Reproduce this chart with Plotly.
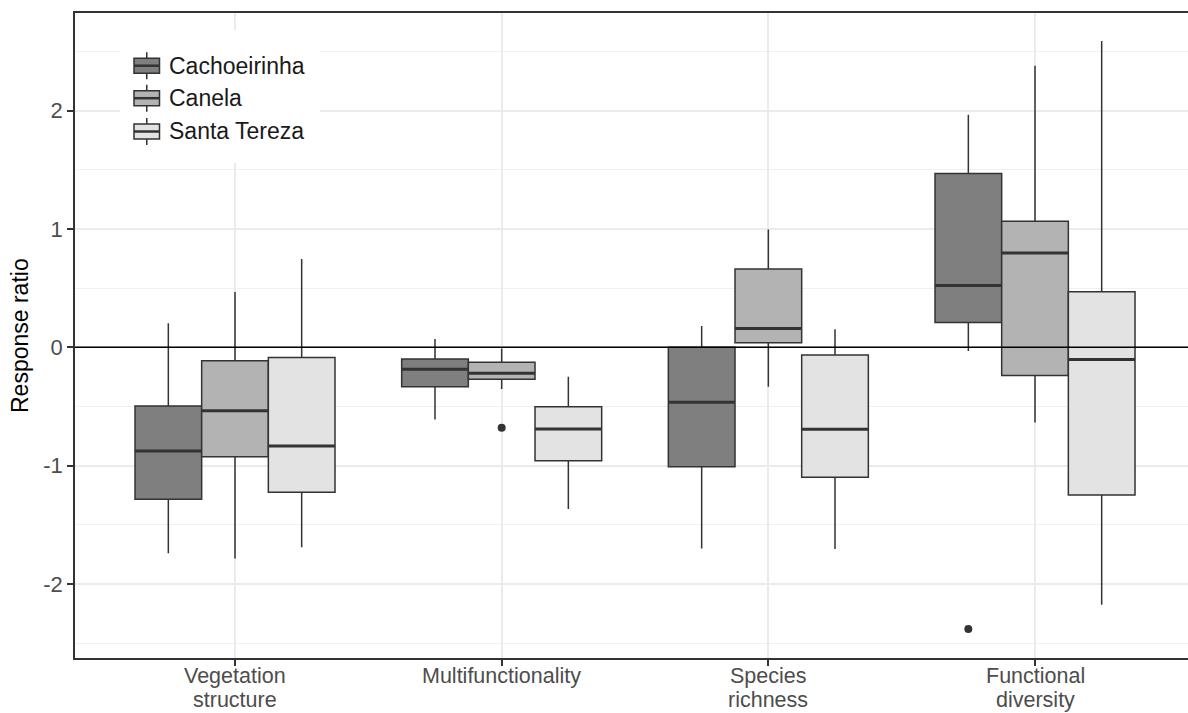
import plotly.graph_objects as go

# ---------------- data ----------------
categories = ["Vegetation structure", "Multifunctionality", "Species richness", "Functional diversity"]
category_lines = [["Vegetation", "structure"], ["Multifunctionality"], ["Species", "richness"], ["Functional", "diversity"]]
sites = ["Cachoeirinha", "Canela", "Santa Tereza"]

cach_lower = [-1.74, -0.61, -1.70, -0.03]
cach_q1 = [-1.285, -0.333, -1.009, 0.209]
cach_median = [-0.877, -0.186, -0.465, 0.522]
cach_q3 = [-0.496, -0.099, 0.0, 1.47]
cach_upper = [0.203, 0.07, 0.18, 1.965]
cach_outliers = [(3, -2.38)]  # (category index, value)

canela_lower = [-1.784, -0.353, -0.333, -0.636]
canela_q1 = [-0.925, -0.27, 0.039, -0.239]
canela_median = [-0.536, -0.22, 0.16, 0.797]
canela_q3 = [-0.113, -0.127, 0.662, 1.065]
canela_upper = [0.467, -0.01, 0.997, 2.38]
canela_outliers = [(1, -0.679)]

santa_lower = [-1.69, -1.367, -1.705, -2.175]
santa_q1 = [-1.226, -0.958, -1.099, -1.249]
santa_median = [-0.834, -0.69, -0.693, -0.103]
santa_q3 = [-0.085, -0.502, -0.065, 0.47]
santa_upper = [0.746, -0.248, 0.152, 2.59]
santa_outliers = []

y_tick_vals = [-2, -1, 0, 1, 2]
y_tick_text = ["-2", "-1", "0", "1", "2"]
y_minor_vals = [-2.5, -1.5, -0.5, 0.5, 1.5, 2.5]

# ---------------- styling ----------------
fills = ["#7f7f7f", "#b3b3b3", "#e3e3e3"]
edge = "#333333"
FONT = "Liberation Sans, Arial, sans-serif"
TXT = 23
XTXT = 21.5
W, H = 1188, 713
L, T, B, R = 75, 13, 55, 0
plot_w = W - L - R
plot_h = H - T - B
unit_px = 266.67
XR = [0.4, 0.4 + plot_w / unit_px]
YR = [-2.626, 2.826]
dodge = [-0.25, 0.0, 0.25]
box_w = 0.25


def px_x(px):
    return (px - L) / plot_w


def px_y(py):
    return (H - B - py) / plot_h


series = [
    (cach_lower, cach_q1, cach_median, cach_q3, cach_upper, cach_outliers),
    (canela_lower, canela_q1, canela_median, canela_q3, canela_upper, canela_outliers),
    (santa_lower, santa_q1, santa_median, santa_q3, santa_upper, santa_outliers),
]

fig = go.Figure()

for s, (lo, q1, med, q3, up, outs) in enumerate(series):
    for i in range(len(categories)):
        pos = i + 1 + dodge[s]
        fig.add_trace(go.Box(
            x=[pos], q1=[q1[i]], median=[med[i]], q3=[q3[i]],
            lowerfence=[lo[i]], upperfence=[up[i]],
            width=box_w, whiskerwidth=0, boxpoints=False,
            fillcolor=fills[s], line=dict(color=edge, width=1.5),
            showlegend=False, hoverinfo="skip",
        ))
    # thicker median bars
    mx, my = [], []
    for i in range(len(categories)):
        pos = i + 1 + dodge[s]
        mx += [pos - box_w / 2, pos + box_w / 2, None]
        my += [med[i], med[i], None]
    fig.add_trace(go.Scatter(x=mx, y=my, mode="lines",
                             line=dict(color=edge, width=3),
                             showlegend=False, hoverinfo="skip"))
    if outs:
        fig.add_trace(go.Scatter(
            x=[c + 1 + dodge[s] for c, v in outs], y=[v for c, v in outs],
            mode="markers", marker=dict(color=edge, size=8),
            showlegend=False, hoverinfo="skip"))

shapes = []
# horizontal reference line at 0
shapes.append(dict(type="line", xref="x", yref="y", x0=XR[0], x1=XR[1], y0=0, y1=0,
                   line=dict(color="black", width=1.5), layer="above"))

# legend (drawn inside the panel)
shapes.append(dict(type="rect", xref="paper", yref="paper",
                   x0=px_x(120), x1=px_x(320), y0=px_y(163), y1=px_y(30),
                   fillcolor="white", line=dict(width=0), layer="above"))
annotations = []
leg_cy = [65.7, 98.2, 131.5]
for k, name in enumerate(sites):
    cy = leg_cy[k]
    kx0, kx1 = 134, 159.5
    kxc = (kx0 + kx1) / 2
    shapes.append(dict(type="line", xref="paper", yref="paper",
                       x0=px_x(kxc), x1=px_x(kxc), y0=px_y(cy - 13.5), y1=px_y(cy + 13.5),
                       line=dict(color=edge, width=1.5), layer="above"))
    shapes.append(dict(type="rect", xref="paper", yref="paper",
                       x0=px_x(kx0), x1=px_x(kx1), y0=px_y(cy + 7.5), y1=px_y(cy - 7.5),
                       fillcolor=fills[k], line=dict(color=edge, width=1.5), layer="above"))
    shapes.append(dict(type="line", xref="paper", yref="paper",
                       x0=px_x(kx0), x1=px_x(kx1), y0=px_y(cy), y1=px_y(cy),
                       line=dict(color=edge, width=2.5), layer="above"))
    annotations.append(dict(text=name, xref="paper", yref="paper",
                            x=px_x(167), y=px_y(cy), xanchor="left", yanchor="middle",
                            showarrow=False, font=dict(family=FONT, size=TXT, color="#1a1a1a")))

# x tick labels (two tight lines, like ggplot's lineheight)
line_cy = [675.5, 699.5]
for i, lines in enumerate(category_lines):
    for j, txt in enumerate(lines):
        annotations.append(dict(text=txt, xref="x", yref="paper", x=i + 1, y=px_y(line_cy[j]),
                                xanchor="center", yanchor="middle", showarrow=False, borderpad=0,
                                font=dict(family=FONT, size=XTXT, color="#4d4d4d")))

# y axis title
annotations.append(dict(text="Response ratio", xref="paper", yref="paper",
                        x=px_x(19.5), y=0.5, xanchor="center", yanchor="middle",
                        textangle=-90, showarrow=False,
                        font=dict(family=FONT, size=TXT, color="black")))

fig.update_layout(
    width=W, height=H,
    margin=dict(l=L, r=R, t=T, b=B, pad=0),
    paper_bgcolor="white", plot_bgcolor="white",
    boxmode="overlay",
    showlegend=False,
    shapes=shapes, annotations=annotations,
    font=dict(family=FONT),
)
fig.update_xaxes(
    range=XR, tickvals=[1, 2, 3, 4], showticklabels=False,
    showgrid=True, gridcolor="#ebebeb", gridwidth=1.5,
    zeroline=False, showline=True, mirror=True, linecolor=edge, linewidth=1.5,
    ticks="outside", ticklen=6, tickcolor=edge, tickwidth=1.5,
)
fig.update_yaxes(
    range=YR, tickvals=y_tick_vals, ticktext=y_tick_text,
    tickfont=dict(family=FONT, size=22, color="#4d4d4d"),
    showgrid=True, gridcolor="#ebebeb", gridwidth=1.5,
    minor=dict(tickmode="array", tickvals=y_minor_vals, showgrid=True,
               gridcolor="#f0f0f0", gridwidth=1.3, ticks=""),
    zeroline=False, showline=True, mirror=False, linecolor=edge, linewidth=1.5,
    ticks="outside", ticklen=6, tickcolor=edge, tickwidth=1.5,
)

fig.write_html("out.html")
